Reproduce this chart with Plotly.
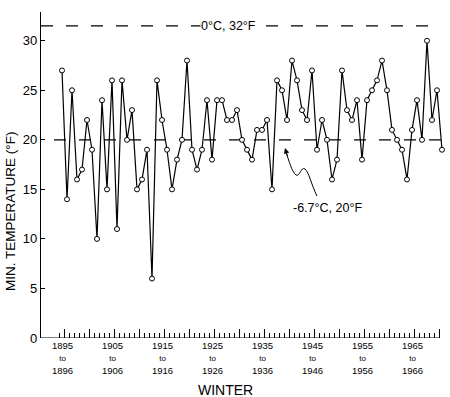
import plotly.graph_objects as go

# ---- data ----
winter_start = list(range(1895, 1972))
min_temp_f = [27, 14, 25, 16, 17, 22, 19, 10, 24, 15, 26, 11, 26, 20, 23, 15, 16, 19, 6, 26,
              22, 19, 15, 18, 20, 28, 19, 17, 19, 24, 18, 24, 24, 22, 22, 23, 20, 19, 18, 21,
              21, 22, 15, 26, 25, 22, 28, 26, 23, 22, 27, 19, 22, 20, 16, 18, 27, 23, 22, 24,
              18, 24, 25, 26, 28, 25, 21, 20, 19, 16, 21, 24, 20, 30, 22, 25, 19]
label_start = [1895, 1905, 1915, 1925, 1935, 1945, 1955, 1965]
label_end = [1896, 1906, 1916, 1926, 1936, 1946, 1956, 1966]
y_ticks = [0, 5, 10, 15, 20, 25, 30]
freeze_line = 31.5
ref_line = 20
major_ticks = [1895.5 + 5 * k for k in range(16)]
minor_ticks = [1894.5 + k for k in range(77)]

X0, X1 = 1890.8, 1971.4
Y1 = 32.9
FONT = "Liberation Sans"


def px2x(px):
    return X0 + (px - 41) / 5.0


def py2y(py):
    return (338 - py) / 9.91


fig = go.Figure()

# reference dashed lines
fig.add_shape(type="line", x0=px2x(41), x1=px2x(431), y0=freeze_line, y1=freeze_line,
              line=dict(color="black", width=1.3, dash="12px,13px"), layer="below")
fig.add_shape(type="line", x0=px2x(54), x1=px2x(443), y0=ref_line, y1=ref_line,
              line=dict(color="black", width=1.3, dash="12px,13px"), layer="below")
# x axis line
fig.add_shape(type="line", x0=X0, x1=1970.5, y0=0, y1=0,
              line=dict(color="black", width=1.2))

fig.add_trace(go.Scatter(
    x=winter_start, y=min_temp_f, mode="lines+markers",
    line=dict(color="black", width=1.2),
    marker=dict(symbol="circle", size=5, color="white", line=dict(color="black", width=1)),
    cliponaxis=False, hoverinfo="x+y", showlegend=False))

# wavy arrow to the 20F line
pts = [(317, 196), (311, 184), (309, 172), (305, 169), (301, 166), (300, 177), (296, 175),
       (292, 172), (289, 161), (286, 152)]


def P(p):
    return f"{px2x(p[0])},{py2y(p[1])}"


path = (f"M {P(pts[0])} C {P(pts[1])} {P(pts[2])} {P(pts[3])} "
        f"C {P(pts[4])} {P(pts[5])} {P(pts[6])} C {P(pts[7])} {P(pts[8])} {P(pts[9])}")
fig.add_shape(type="path", path=path, line=dict(color="black", width=1))
fig.add_annotation(x=px2x(285), y=py2y(148), ax=3, ay=10, text="", showarrow=True,
                   arrowhead=2, arrowsize=1.1, arrowwidth=1, arrowcolor="black", standoff=0)

fig.add_annotation(x=px2x(228), y=freeze_line, text="0°C, 32°F", showarrow=False,
                   xanchor="center", yanchor="middle",
                   bgcolor="white", borderpad=0,
                   font=dict(family=FONT, size=12.5, color="black"))
fig.add_annotation(x=px2x(327), y=py2y(208), text="-6.7°C, 20°F", showarrow=False,
                   xanchor="center", yanchor="middle",
                   font=dict(family=FONT, size=12.5, color="black"))

# x tick labels (three lines each)
for s, e in zip(label_start, label_end):
    fig.add_annotation(x=s, y=(338 - 357.5) / 326, yref="paper",
                       xanchor="center", yanchor="middle",
                       text=f"{s}<br><span style='font-size:8px'>to</span><br>{e}",
                       showarrow=False,
                       font=dict(family=FONT, size=9.5, color="black"))

fig.add_annotation(x=(225 - 41) / 403, y=(338 - 390) / 326, xref="paper", yref="paper",
                   xanchor="center", yanchor="middle",
                   text="WINTER", showarrow=False,
                   font=dict(family=FONT, size=14, color="black"))
fig.add_annotation(x=(10 - 41) / 403, y=(338 - 212) / 326, xref="paper", yref="paper",
                   xanchor="center", yanchor="middle",
                   text="MIN. TEMPERATURE (°F)", textangle=-90, showarrow=False,
                   font=dict(family=FONT, size=13.5, color="black"))

fig.update_layout(
    width=450, height=397,
    margin=dict(l=41, r=6, t=12, b=59, autoexpand=False),
    paper_bgcolor="white", plot_bgcolor="white",
    font=dict(family=FONT, color="black"),
    xaxis=dict(range=[X0, X1], showline=False, showgrid=False, zeroline=False,
               tickmode="array", tickvals=major_ticks, ticks="inside", ticklen=9,
               tickwidth=1, tickcolor="black", showticklabels=False,
               minor=dict(tickmode="array", tickvals=minor_ticks, ticks="inside",
                          ticklen=5, tickwidth=1, tickcolor="black")),
    yaxis=dict(range=[0, Y1], showline=True, linecolor="black", linewidth=1.2,
               showgrid=False, zeroline=False, tickmode="array", tickvals=y_ticks,
               ticks="inside", ticklen=4, tickcolor="black",
               tickfont=dict(family=FONT, size=13, color="black")),
)

fig.write_html("out.html", config={"displayModeBar": False},
               post_script="document.body.style.margin='0';document.body.style.overflow='hidden';")
